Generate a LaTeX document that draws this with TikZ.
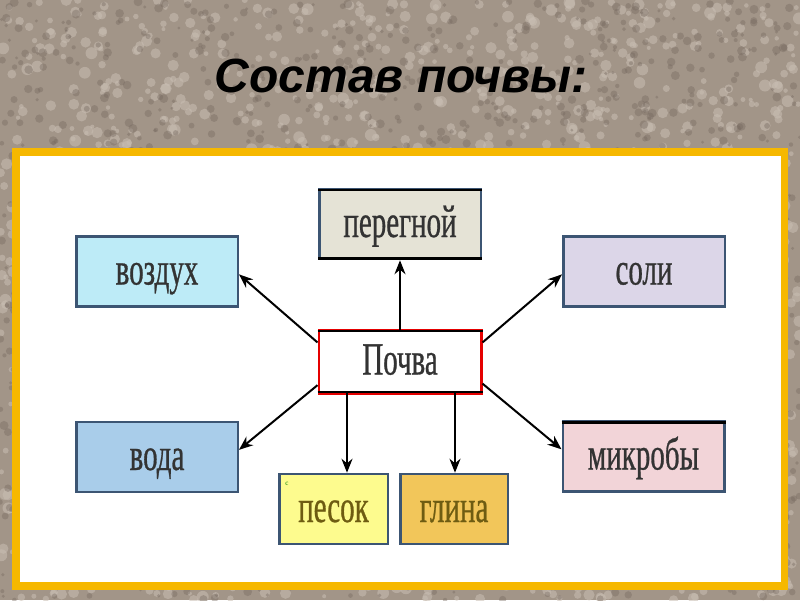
\documentclass[tikz,border=0pt]{standalone}
\usepackage{fontspec}
\usepackage{tikz}
\usetikzlibrary{arrows.meta}
\setmainfont{Liberation Serif}
\newfontfamily\titlefont{Liberation Sans}
\newfontfamily\boxfont[FakeStretch=0.63,FakeBold=0.6]{Liberation Serif}
\definecolor{gravel}{HTML}{A29588}
\definecolor{gravellight}{HTML}{C9BEB3}
\definecolor{graveldark}{HTML}{75685F}
\definecolor{frame}{HTML}{F6B800}
\definecolor{boxedge}{HTML}{3C5573}
\definecolor{boxtext}{HTML}{333333}
\definecolor{claytext}{HTML}{6E5C12}

\begin{document}
\begin{tikzpicture}[x=1pt,y=-1pt,
  part/.style={draw=boxedge,line width=2.5pt,inner sep=0pt,minimum width=161.5pt,
    minimum height=70pt,text height=26pt,text depth=0pt,
    font=\boxfont\fontsize{46}{46}\selectfont,text=boxtext},
  arr/.style={-{Stealth[length=14pt,width=11pt]},line width=2pt},
  rim/.style={line width=2.5pt,black}]
\useasboundingbox (0,0) rectangle (800,600);
% gravel background
\fill[gravel] (0,0) rectangle (800,600);
\pgfmathsetseed{42}
\foreach \i in {1,...,1800}
  \fill[gravellight,opacity=0.55] (rnd*800,rnd*600) circle (2+rnd*4);
\foreach \i in {1,...,1800}
  \fill[graveldark,opacity=0.4] (rnd*800,rnd*600) circle (1.5+rnd*3);
\node[font=\titlefont\bfseries\itshape\fontsize{48}{48}\selectfont] (title) at (401,76) {Состав почвы:};
% panel
\draw[frame,fill=white,line width=7.5pt] (15.75,152) rectangle (784.25,586);
% parts
\node[part,fill=white,draw=red!90!black,minimum width=162.5pt,minimum height=63.5pt] (pochva) at (400,361.5) {Почва};
\node[part,fill={rgb,255:red,229;green,227;blue,214}] (peregnoj) at (400,224) {перегной};
\node[part,fill={rgb,255:red,189;green,235;blue,247}] (vozduh) at (157,271.5) {воздух};
\node[part,fill={rgb,255:red,220;green,214;blue,232}] (soli) at (644,271.5) {соли};
\node[part,fill={rgb,255:red,169;green,205;blue,234}] (voda) at (157,457) {вода};
\node[part,fill={rgb,255:red,242;green,212;blue,216}] (mikroby) at (643.5,456.5) {микробы};
\node[part,fill={rgb,255:red,253;green,251;blue,142},text=claytext,minimum width=108.5pt] (pesok) at (333.5,509) {песок};
\node[part,fill={rgb,255:red,242;green,198;blue,90},text=claytext,minimum width=107.5pt] (glina) at (454,509) {глина};
\node[text=green!50!black,font=\fontsize{7}{7}\selectfont,inner sep=0pt] (mark) at (287,484) {с};
% dark rims
\draw[rim] ([yshift=-2pt]peregnoj.north west) -- ([yshift=-2pt]peregnoj.north east);
\draw[rim] ([yshift=2pt]peregnoj.south west) -- ([yshift=2pt]peregnoj.south east);
\draw[rim] ([yshift=-2.5pt]pochva.north west) -- ([yshift=-2.5pt]pochva.north east);
\draw[rim] ([yshift=2.5pt]pochva.south west) -- ([yshift=2.5pt]pochva.south east);
\draw[rim] ([yshift=-2pt]mikroby.north west) -- ([yshift=-2pt]mikroby.north east);
% arrows
\draw[arr] ([yshift=-2.5pt]pochva.north) -- (peregnoj.south);
\draw[arr] (pochva.167) -- (vozduh.-2);
\draw[arr] (pochva.13) -- (soli.182);
\draw[arr] (pochva.196) -- (voda.5);
\draw[arr] (pochva.-15) -- (mikroby.175);
\draw[arr] ([yshift=2.5pt]pochva.south -| 347,0) -- (pesok.north -| 347,0);
\draw[arr] ([yshift=2.5pt]pochva.south -| 455,0) -- (glina.north -| 455,0);
\end{tikzpicture}
\end{document}
